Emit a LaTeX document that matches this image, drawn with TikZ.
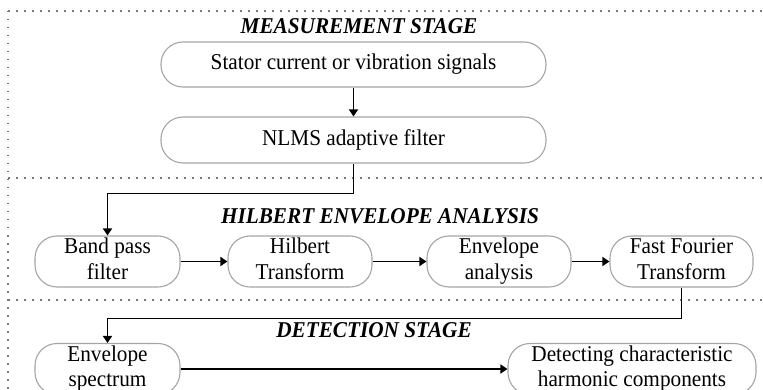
\documentclass[tikz,border=0pt]{standalone}
\usepackage{fontspec}
\setmainfont[FakeStretch=0.94]{Liberation Serif}
\usetikzlibrary{arrows.meta}
\newcommand\twol[2]{\strut #1\\\strut #2}
\begin{document}
\begin{tikzpicture}[x=1pt,y=-1pt,
  box/.style={draw={rgb,255:red,165;green,165;blue,165}, line width=1.1pt, rounded corners=22pt,
    inner sep=0pt, align=center, font=\fontsize{22.6}{25.5}\selectfont},
  ttl/.style={font=\fontsize{22.6}{25.5}\selectfont\bfseries\itshape, inner sep=0pt},
  arr/.style={draw=black, line width=1.6pt, -{Triangle[length=7pt,width=9pt]}},
  sep/.style={draw={rgb,255:red,120;green,120;blue,120}, line width=1.5pt, dash pattern=on 1.5pt off 6.5pt}]
\useasboundingbox (0,0) rectangle (763,390);
% separators
\coordinate (tl) at (8,11);
\coordinate (tr) at (763,11);
\coordinate (bl) at (8,392);
\coordinate (s1l) at (8,178);
\coordinate (s1r) at (763,178);
\coordinate (s2l) at (8,300);
\coordinate (s2r) at (763,300);
\draw[sep] (tl) -- (tr);
\draw[sep] (tl) -- (bl);
\draw[sep] (s1l) -- (s1r);
\draw[sep] (s2l) -- (s2r);
% titles
\node[ttl] (t1) at (359,26) {MEASUREMENT STAGE};
\node[ttl] (t2) at (380,216) {HILBERT ENVELOPE ANALYSIS};
\node[ttl] (t3) at (374,330) {DETECTION STAGE};
% boxes
\node[box, minimum width=385pt, minimum height=45pt] (st) at (353.5,64.5) {Stator current or vibration signals};
\node[box, minimum width=385pt, minimum height=46pt] (nl) at (353.5,140) {NLMS adaptive filter};
\node[box, minimum width=145pt, minimum height=47pt] (bp) at (107.5,261.5) {\twol{Band pass}{filter}};
\node[box, minimum width=144pt, minimum height=47pt] (hi) at (300,261.5) {\twol{Hilbert}{Transform}};
\node[box, minimum width=144pt, minimum height=47pt] (en) at (499,261.5) {\twol{Envelope}{analysis}};
\node[box, minimum width=143pt, minimum height=47pt] (ff) at (681.5,261.5) {\twol{Fast Fourier}{Transform}};
\node[box, minimum width=145pt, minimum height=47pt] (es) at (107.5,369) {\twol{Envelope}{spectrum}};
\node[box, minimum width=248pt, minimum height=47pt] (de) at (632,369) {\twol{Detecting characteristic}{harmonic components}};
% connectors
\draw[arr] (st) -- (nl);
\draw[arr] (nl.south) -- ++(0,30) -| (bp.north);
\draw[arr] (bp) -- (hi);
\draw[arr] (hi) -- (en);
\draw[arr] (en) -- (ff);
\draw[arr] (ff.south) -- ++(0,31) -| (es.north);
\draw[arr] (es) -- (de);
\end{tikzpicture}
\end{document}
